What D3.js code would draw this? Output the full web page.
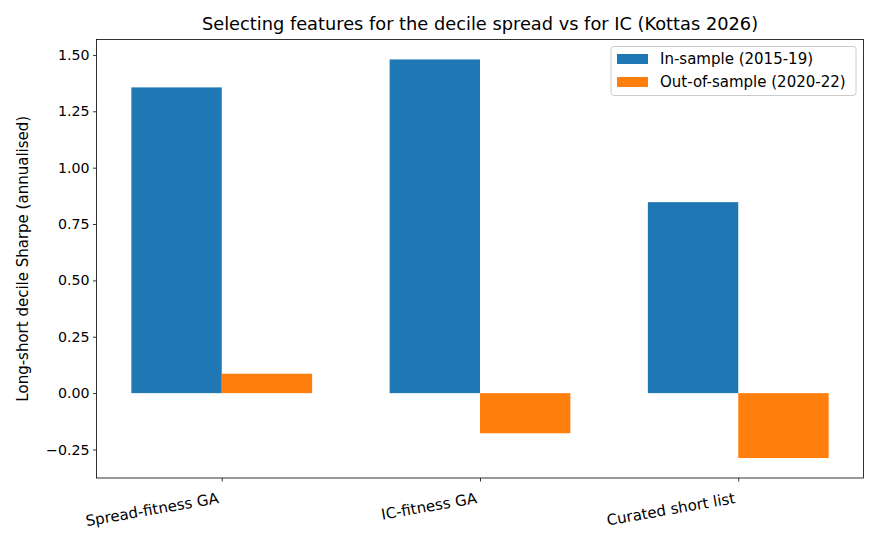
<!DOCTYPE html>
<html><head><meta charset="utf-8">
<script src="https://cdn.jsdelivr.net/npm/d3@7"></script>
<style>body{margin:0;background:#fff}text{font-family:"DejaVu Sans",sans-serif;fill:#000}</style>
</head><body><svg id="c" width="880" height="550"></svg>
<script>
const categories = ["Spread-fitness GA", "IC-fitness GA", "Curated short list"];
const seriesNames = ["In-sample (2015-19)", "Out-of-sample (2020-22)"];
const inSample = [1.356, 1.480, 0.847];
const outSample = [0.086, -0.178, -0.288];
const yTicks = [-0.25, 0, 0.25, 0.5, 0.75, 1.0, 1.25, 1.5];
const colors = ["#1f77b4", "#ff7f0e"];

const FS = 15;
const svg = d3.select("#c");
const L = 96.5, R = 863.5, T = 39.5, B = 478;
const barW = 0.35;
const lo = Math.min(0, ...inSample, ...outSample), hi = Math.max(0, ...inSample, ...outSample);
const ym = (hi - lo) * 0.05;
const y = d3.scaleLinear().domain([lo - ym, hi + ym]).range([B, T]);
const xm = (categories.length - 1 + 2 * barW) * 0.05;
const x = d3.scaleLinear().domain([-barW - xm, categories.length - 1 + barW + xm]).range([L, R]);

const series = [inSample, outSample];
series.forEach((vals, s) => {
  svg.append("g").selectAll("rect").data(vals).join("rect")
    .attr("x", (d, i) => x(i + (s === 0 ? -barW : 0)))
    .attr("width", (d, i) => x(i + barW) - x(i))
    .attr("y", d => y(Math.max(0, d)))
    .attr("height", d => Math.abs(y(d) - y(0)))
    .attr("fill", colors[s]);
});

const yAxis = d3.axisLeft(y).tickValues(yTicks).tickFormat(d => d3.format(".2f")(d).replace("-", "\u2212")).tickSize(3.5).tickPadding(3.5);
const gy = svg.append("g").attr("transform", `translate(${L},0)`).call(yAxis);
gy.select(".domain").remove();
gy.selectAll("text").attr("font-size", 14.2).style("font-family", "DejaVu Sans");
gy.selectAll("line").attr("stroke", "#000").attr("stroke-width", 0.8);

const xAxis = d3.axisBottom(x).tickValues(categories.map((c, i) => i)).tickFormat(i => categories[i]).tickSize(3.5).tickPadding(3.5);
const gx = svg.append("g").attr("transform", `translate(0,${B})`).call(xAxis);
gx.select(".domain").remove();
gx.selectAll("line").attr("stroke", "#000").attr("stroke-width", 0.8);
gx.selectAll("text").attr("font-size", FS).style("font-family", "DejaVu Sans")
  .attr("text-anchor", "end").attr("dy", null).attr("y", 0)
  .attr("transform", "translate(-3,25) rotate(-10)");

svg.append("rect").attr("x", L).attr("y", T).attr("width", R - L).attr("height", B - T)
  .attr("fill", "none").attr("stroke", "#000").attr("stroke-width", 0.8);

svg.append("text").attr("x", (L + R) / 2).attr("y", 30).attr("text-anchor", "middle")
  .attr("font-size", 17.8).text("Selecting features for the decile spread vs for IC (Kottas 2026)");

svg.append("text").attr("transform", `translate(28,${(T + B) / 2}) rotate(-90)`)
  .attr("text-anchor", "middle").attr("font-size", FS).text("Long-short decile Sharpe (annualised)");

const lg = svg.append("g");
lg.append("rect").attr("x", 611).attr("y", 46.5).attr("width", 245).attr("height", 49).attr("rx", 3)
  .attr("fill", "#fff").attr("fill-opacity", 0.8).attr("stroke", "#ccc").attr("stroke-width", 1);
seriesNames.forEach((n, i) => {
  const yy = 59 + i * 23;
  lg.append("rect").attr("x", 617).attr("y", yy - 5).attr("width", 31).attr("height", 10).attr("fill", colors[i]);
  lg.append("text").attr("x", 660).attr("y", yy + 5).attr("font-size", FS).text(n);
});
</script></body></html>
